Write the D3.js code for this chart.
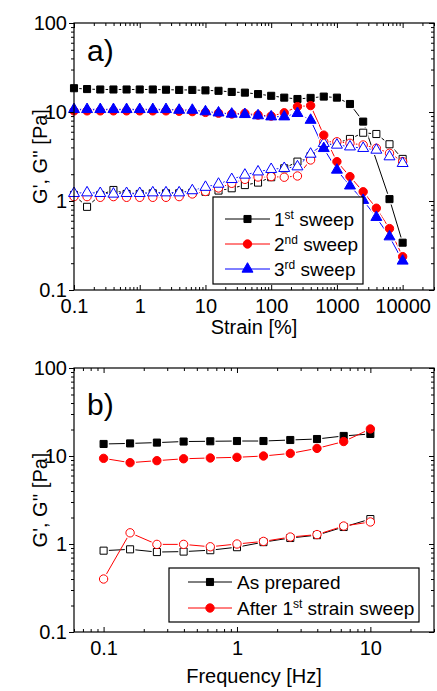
<!DOCTYPE html>
<html>
<head>
<meta charset="utf-8">
<script src="https://cdn.jsdelivr.net/npm/d3@7"></script>
<style>
  body { margin: 0; background: #fff; }
  text { font-family: "Liberation Sans", Arial, sans-serif; }
</style>
</head>
<body>
<svg width="437" height="691"></svg>
<script>
// panel a) strain sweeps
const strain = [0.1, 0.158, 0.251, 0.398, 0.631, 1, 1.58, 2.51, 3.98, 6.31, 10, 15.8, 25.1, 39.8, 63.1,
                100, 158, 251, 398, 631, 1000, 1580, 2510, 3980, 6310, 10000];
const sweep1G1 = [18.5, 18.1, 17.9, 17.9, 17.9, 17.9, 17.9, 17.8, 17.7, 17.7, 17.5, 17.3, 16.8, 16.5, 15.9,
                  15.2, 14.5, 14.0, 14.4, 14.9, 14.5, 12.3, 7.8, null, 1.05, 0.34];
const sweep1G2 = [1.17, 0.86, 1.17, 1.33, 1.2, 1.2, 1.22, 1.22, 1.22, 1.24, 1.27, 1.31, 1.39, 1.51, 1.61,
                  1.85, 2.33, 2.77, 3.2, 4.1, 4.5, 4.98, 5.85, 5.66, 4.34, 2.97];
const sweep2G1 = [10.3, 10.3, 10.3, 10.3, 10.3, 10.3, 10.3, 10.3, 10.2, 10.1, 9.9, 9.7, 9.5, 9.66, 9.25,
                  9.0, 9.8, 11.5, 11.8, 5.5, 2.77, 1.88, 1.27, 0.83, 0.49, 0.237];
const sweep2G2 = [1.12, 1.12, 1.1, 1.12, 1.1, 1.1, 1.1, 1.1, 1.12, 1.2, 1.28, 1.4, 1.58, 1.75, 1.86,
                  1.88, 1.85, 1.91, 2.89, 4.63, 4.63, 4.45, 4.26, 3.91, 3.44, 2.77];
const sweep3G1 = [10.7, 10.7, 10.7, 10.7, 10.7, 10.7, 10.7, 10.7, 10.5, 10.5, 10.1, 9.8, 9.5, 9.4, 9.1,
                  8.85, 8.85, 9.66, 8.1, 3.9, 2.23, 1.48, 1.02, 0.656, 0.397, 0.212];
const sweep3G2 = [1.22, 1.24, 1.22, 1.2, 1.22, 1.22, 1.24, 1.24, 1.24, 1.31, 1.43, 1.55, 1.75, 1.96, 2.13,
                  2.27, 2.33, 2.43, 3.37, 4.45, 4.26, 4.07, 3.91, 3.74, 3.15, 2.65];

// panel b) frequency sweeps
const freq = [0.1, 0.158, 0.251, 0.398, 0.631, 1, 1.58, 2.51, 3.98, 6.31, 10];
const prepG1 = [13.7, 13.9, 14.2, 14.6, 14.7, 14.8, 14.8, 15.2, 15.6, 16.9, 17.8];
const prepG2 = [0.84, 0.87, 0.81, 0.82, 0.85, 0.92, 1.05, 1.17, 1.26, 1.56, 1.92];
const afterG1 = [9.4, 8.4, 8.85, 9.3, 9.5, 9.66, 10.0, 10.7, 12.2, 14.6, 20.3];
const afterG2 = [0.40, 1.34, 0.99, 0.99, 0.93, 1.0, 1.07, 1.2, 1.28, 1.6, 1.78];

const yTitle = "G', G'' [Pa]";

const svg = d3.select("svg");
const left = 74, right = 434;

const isMajor = v => Math.abs(Math.log10(v) - Math.round(Math.log10(v))) < 1e-6;

function drawAxes(g, x, y, w, h) {
  const xt = x.ticks(), yt = y.ticks();
  const xMaj = xt.filter(isMajor), xMin = xt.filter(v => !isMajor(v));
  const yMaj = yt.filter(isMajor), yMin = yt.filter(v => !isMajor(v));
  const fmt = d3.format("~g");

  const parts = [
    [d3.axisBottom(x).tickValues(xMaj).tickSizeInner(-5).tickPadding(9).tickFormat(fmt), `translate(0,${h})`],
    [d3.axisBottom(x).tickValues(xMin).tickSizeInner(-3).tickFormat(""), `translate(0,${h})`],
    [d3.axisTop(x).tickValues(xMaj).tickSizeInner(-5).tickFormat(""), null],
    [d3.axisTop(x).tickValues(xMin).tickSizeInner(-3).tickFormat(""), null],
    [d3.axisLeft(y).tickValues(yMaj).tickSizeInner(5).tickPadding(2).tickFormat(fmt), null],
    [d3.axisLeft(y).tickValues(yMin).tickSizeInner(3).tickFormat(""), null],
    [d3.axisRight(y).tickValues(yMaj).tickSizeInner(-5).tickFormat(""), `translate(${w},0)`],
    [d3.axisRight(y).tickValues(yMin).tickSizeInner(-3).tickFormat(""), `translate(${w},0)`]
  ];
  parts.forEach(([ax, tr]) => {
    const a = g.append("g").call(ax.tickSizeOuter(0));
    if (tr) a.attr("transform", tr);
    a.select(".domain").remove();
    a.selectAll("line").attr("stroke", "#000");
    a.selectAll("text").attr("font-size", 20).attr("fill", "#000")
      .attr("font-family", "Liberation Sans, Arial, sans-serif");
  });

  g.append("rect")
    .attr("width", w).attr("height", h)
    .attr("fill", "none").attr("stroke", "#000").attr("stroke-width", 1.2);
}

function drawSeries(g, x, y, list) {
  const line = d3.line().x(d => x(d[0])).y(d => y(d[1]));
  const pts = list.map(s => s.xs.map((v, i) => [v, s.ys[i]]).filter(d => d[1] != null));
  list.forEach((s, k) => {
    g.append("path")
      .attr("d", line(pts[k]))
      .attr("fill", "none").attr("stroke", s.color).attr("stroke-width", 1);
  });
  // white halo so lines stop short of the markers
  list.forEach((s, k) => {
    g.selectAll(null).data(pts[k]).join("path")
      .attr("transform", d => `translate(${x(d[0])},${y(d[1])})`)
      .attr("d", d3.symbol(s.type, s.size))
      .attr("fill", "#fff").attr("stroke", "#fff").attr("stroke-width", 3.5);
  });
  list.forEach((s, k) => {
    g.selectAll(null).data(pts[k]).join("path")
      .attr("transform", d => `translate(${x(d[0])},${y(d[1])})`)
      .attr("d", d3.symbol(s.type, s.size))
      .attr("fill", s.open ? "#fff" : s.color)
      .attr("stroke", s.color).attr("stroke-width", 1);
  });
}

function drawLegend(g, bx, by, bw, bh, rows, x0, x1, tx) {
  g.append("rect").attr("x", bx).attr("y", by).attr("width", bw).attr("height", bh)
    .attr("fill", "#fff").attr("stroke", "#000").attr("stroke-width", 1.2);
  rows.forEach(r => {
    g.append("line").attr("x1", x0).attr("x2", x1).attr("y1", r.y).attr("y2", r.y)
      .attr("stroke", r.s.color).attr("stroke-width", 1);
    g.append("path").attr("transform", `translate(${(x0 + x1) / 2},${r.y})`)
      .attr("d", d3.symbol(r.s.type, r.s.size))
      .attr("fill", r.s.color).attr("stroke", r.s.color);
    const t = g.append("text").attr("x", tx).attr("y", r.y + 7).attr("font-size", 19).attr("fill", "#000");
    r.parts.forEach(p => {
      const ts = t.append("tspan").text(p[0]);
      if (p[1]) ts.attr("font-size", 12).attr("baseline-shift", "super");
    });
  });
}

const sq = {type: d3.symbolSquare, size: 50, color: "#000"};
const ci = {type: d3.symbolCircle, size: 55, color: "#ff0000"};
const tr = {type: d3.symbolTriangle, size: 52, color: "#0000ff"};

// ---------- panel a ----------
const topA = 23, hA = 267, w = right - left;
const xA = d3.scaleLog().domain([0.1, 30000]).range([0, w]);
const yA = d3.scaleLog().domain([0.1, 100]).range([hA, 0]);
const gA = svg.append("g").attr("transform", `translate(${left},${topA})`);

drawSeries(gA, xA, yA, [
  {...sq, xs: strain, ys: sweep1G2, open: true},
  {...ci, xs: strain, ys: sweep2G2, open: true},
  {...tr, xs: strain, ys: sweep3G2, open: true},
  {...sq, xs: strain, ys: sweep1G1},
  {...ci, xs: strain, ys: sweep2G1},
  {...tr, xs: strain, ys: sweep3G1}
]);
drawAxes(gA, xA, yA, w, hA);

drawLegend(svg, 213, 197, 150, 87, [
  {y: 219, s: sq, parts: [["1"], ["st", true], [" sweep"]]},
  {y: 244, s: ci, parts: [["2"], ["nd", true], [" sweep"]]},
  {y: 269, s: tr, parts: [["3"], ["rd", true], [" sweep"]]}
], 225, 270, 274);

svg.append("text").attr("x", 87).attr("y", 61).attr("font-size", 30).text("a)");
svg.append("text").attr("x", left + w / 2).attr("y", 334).attr("text-anchor", "middle")
  .attr("font-size", 20).text("Strain [%]");
svg.append("text").attr("transform", `translate(47,${topA + hA / 2}) rotate(-90)`)
  .attr("text-anchor", "middle").attr("font-size", 20).text(yTitle);

// ---------- panel b ----------
const topB = 368, hB = 264;
const xB = d3.scaleLog().domain([0.06, 30]).range([0, w]);
const yB = d3.scaleLog().domain([0.1, 100]).range([hB, 0]);
const gB = svg.append("g").attr("transform", `translate(${left},${topB})`);

drawSeries(gB, xB, yB, [
  {...sq, xs: freq, ys: prepG2, open: true},
  {...ci, xs: freq, ys: afterG2, open: true},
  {...sq, xs: freq, ys: prepG1},
  {...ci, xs: freq, ys: afterG1}
]);
drawAxes(gB, xB, yB, w, hB);

drawLegend(svg, 169, 568, 250, 54, [
  {y: 582, s: sq, parts: [["As prepared"]]},
  {y: 608, s: ci, parts: [["After 1"], ["st", true], [" strain sweep"]]}
], 188, 232, 237);

svg.append("text").attr("x", 87).attr("y", 415).attr("font-size", 30).text("b)");
svg.append("text").attr("x", left + w / 2).attr("y", 683).attr("text-anchor", "middle")
  .attr("font-size", 20).text("Frequency [Hz]");
svg.append("text").attr("transform", `translate(47,${topB + hB / 2}) rotate(-90)`)
  .attr("text-anchor", "middle").attr("font-size", 20).text(yTitle);
</script>
</body>
</html>
